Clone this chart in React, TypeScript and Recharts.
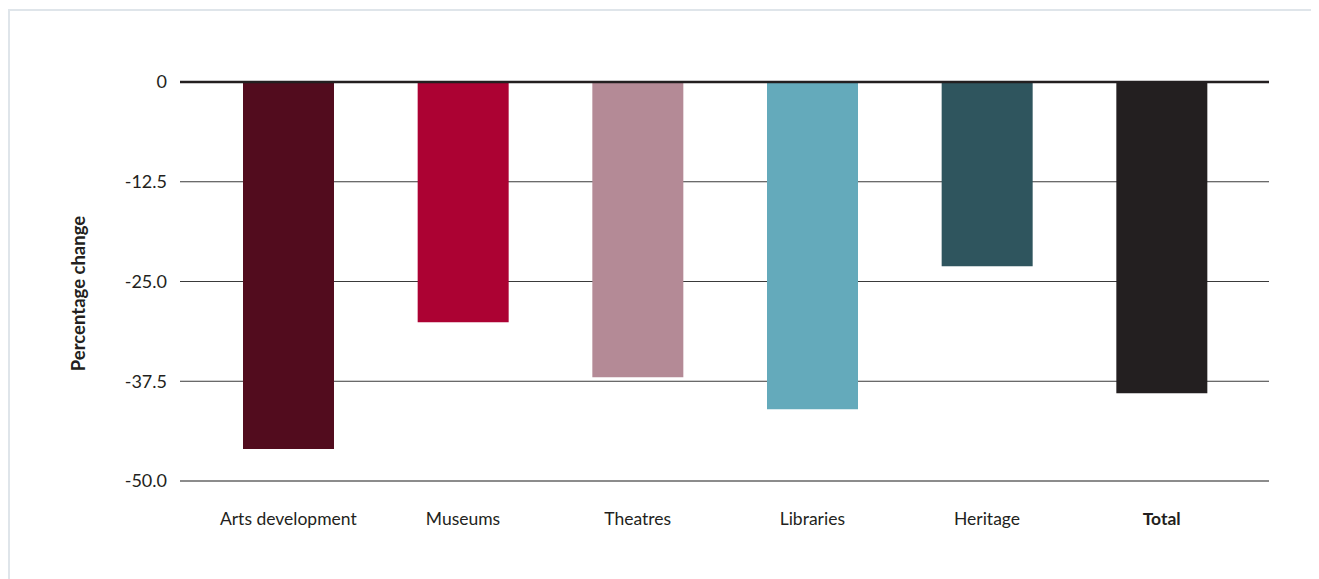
import React from 'react';
import { ComposedChart, Bar, XAxis, YAxis, CartesianGrid, ReferenceLine, Cell } from 'recharts';

const categories = ['Arts development', 'Museums', 'Theatres', 'Libraries', 'Heritage', 'Total'];
const values = [-46.0, -30.1, -37.0, -41.0, -23.1, -39.0];
const colors = ['#520c1e', '#ac0233', '#b48a96', '#64aabb', '#2f555e', '#231f20'];
const yTicks = [0, -12.5, -25, -37.5, -50];

const data = categories.map((c, i) => ({ name: c, value: values[i] }));

const FONT = 'Lato, "Open Sans", sans-serif';
const TEXT = '#231f20';

const XTick = (props: any) => {
  const { x, y, payload } = props;
  const bold = payload.value === 'Total';
  return (
    <text x={x} y={y} dy="0.71em" textAnchor="middle" fill={TEXT}
      fontFamily={FONT} fontSize={17.5} fontWeight={bold ? 700 : 400}>
      {payload.value}
    </text>
  );
};

const fmt = (v: number) => (v === 0 ? '0' : v.toFixed(1));

export default function App() {
  return (
    <div style={{ width: 1309, height: 569, borderTop: '2px solid #dfe5ea', borderLeft: '2px solid #dfe5ea', marginTop: 1 }}>
      <ComposedChart width={1305} height={565} data={data}
        margin={{ top: 71, right: 46, bottom: 65, left: 110 }}>
        <CartesianGrid horizontal vertical={false} stroke="#3a3a3a" strokeWidth={1} />
        <XAxis dataKey="name" axisLine={false} tickLine={false} tickSize={0} tickMargin={32}
          height={30} interval={0} padding={{ left: 21, right: 20 }} tick={<XTick />} />
        <YAxis type="number" domain={[-50, 0]} ticks={yTicks} tickFormatter={fmt}
          axisLine={false} tickLine={false} tickSize={0} tickMargin={13} width={60}
          tick={{ fill: TEXT, fontFamily: FONT, fontSize: 18 }}
          label={{
            content: (p: any) => {
              const vb = p.viewBox;
              const cx = vb.x - 35;
              const cy = vb.y + vb.height / 2 + 12;
              return (
                <text x={cx} y={cy} transform={`rotate(-90, ${cx}, ${cy})`} textAnchor="middle"
                  fill={TEXT} fontFamily={FONT} fontSize={18.5} fontWeight={700}>
                  Percentage change
                </text>
              );
            },
          }} />
        <ReferenceLine y={-50} stroke="#8c8c8c" strokeWidth={2} />
        <Bar dataKey="value" barSize={91} isAnimationActive={false}>
          {data.map((d, i) => (
            <Cell key={d.name} fill={colors[i]} />
          ))}
        </Bar>
        <ReferenceLine y={0} stroke="#231f20" strokeWidth={2.5} />
      </ComposedChart>
    </div>
  );
}
